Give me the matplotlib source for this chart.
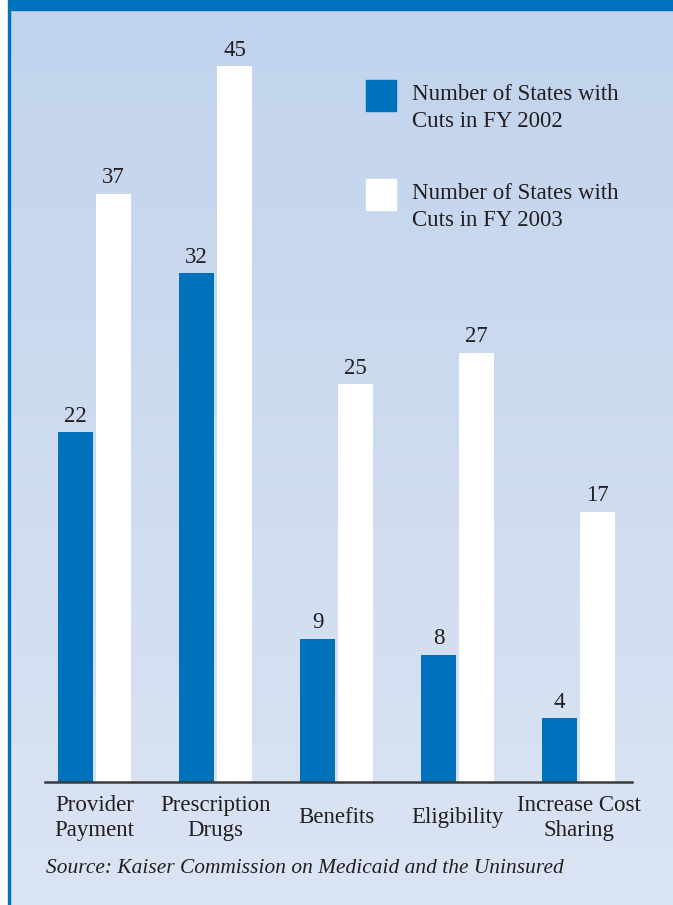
import numpy as np
import matplotlib
matplotlib.use("Agg")
import matplotlib.pyplot as plt
from matplotlib.patches import Rectangle
from matplotlib.colors import LinearSegmentedColormap

categories = ["Provider\nPayment", "Prescription\nDrugs", "Benefits", "Eligibility", "Increase Cost\nSharing"]
cuts_2002 = [22, 32, 9, 8, 4]
cuts_2003 = [37, 45, 25, 27, 17]
legend_labels = ["Number of States with\nCuts in FY 2002", "Number of States with\nCuts in FY 2003"]
source = "Source: Kaiser Commission on Medicaid and the Uninsured"

blue = "#0072bc"
textColor = "#231f20"
plt.rcParams["font.family"] = ["Liberation Serif", "DejaVu Serif"]

fig = plt.figure(figsize=(6.73, 9.05), dpi=100)

# background gradient
bg = fig.add_axes([0, 0, 1, 1], zorder=-10)
cmap = LinearSegmentedColormap.from_list("bg", ["#c1d3ed", "#dbe4f3"])
bg.imshow(np.linspace(0, 1, 256).reshape(-1, 1), aspect="auto", cmap=cmap, extent=[0, 1, 0, 1])
bg.set_xlim(0, 1)
bg.set_ylim(0, 1)
bg.axis("off")
# frame: top band, white strip and blue line on the left
bg.add_patch(Rectangle((0, 1 - 10 / 905), 1, 10 / 905, color=blue, transform=bg.transAxes))
bg.add_patch(Rectangle((0, 0), 8 / 673, 1, color="white", transform=bg.transAxes))
bg.add_patch(Rectangle((8 / 673, 0), 2 / 673, 1, color=blue, transform=bg.transAxes))

ax = fig.add_axes([45 / 673, 123 / 905, 587 / 673, 763.2 / 905])
ax.patch.set_alpha(0)

x = np.arange(len(categories))
w = 0.289
off = 0.157
b1 = ax.bar(x - off, cuts_2002, w, color=blue)
b2 = ax.bar(x + off, cuts_2003, w, color="white")

for bars in (b1, b2):
    for bar in bars.patches:
        h = bar.get_height()
        ax.annotate(f"{h:g}", (bar.get_x() + bar.get_width() / 2, h), xytext=(0, 4),
                    textcoords="offset points", ha="center", va="bottom",
                    fontsize=16.5, color=textColor)

ax.set_xlim(-0.409, 4.442)
ax.set_ylim(0, 48)
for s in ["top", "right", "left"]:
    ax.spines[s].set_visible(False)
ax.spines["bottom"].set_color("#3a3a3a")
ax.spines["bottom"].set_linewidth(1.8)
ax.set_xticks([])
ax.set_yticks([])

for i, c in enumerate(categories):
    ax.text(x[i], -0.047, c, transform=ax.get_xaxis_transform(), ha="center", va="center",
            fontsize=16.5, color=textColor, linespacing=1.23)

# legend
for k, (lab, col) in enumerate(zip(legend_labels, [blue, "white"])):
    top = 80 + k * 99
    fig.patches.append(Rectangle((366 / 673, 1 - (top + 31) / 905), 30 / 673, 31 / 905,
                                 color=col, transform=fig.transFigure))
    fig.text(412 / 673, 1 - (top + 28) / 905, lab, ha="left", va="center",
             fontsize=16.5, color=textColor, linespacing=1.38)

fig.text(46 / 673, 1 - 868 / 905, source, ha="left", va="center", fontsize=15.4,
         style="italic", color=textColor)

fig.savefig("out.png", dpi=100)
